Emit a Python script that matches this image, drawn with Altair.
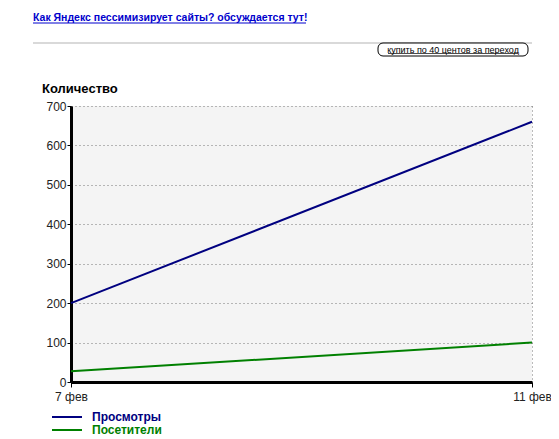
import altair as alt
import pandas as pd

# ---- data ----
days = [7, 11]
views = [200, 660]       # Просмотры
visitors = [27, 100]     # Посетители
series_names = ["Просмотры", "Посетители"]
series_colors = ["#000080", "#008000"]
y_ticks = [0, 100, 200, 300, 400, 500, 600, 700]
x_ticks = [7, 11]
month_label = "фев"

header_text = "Как Яндекс пессимизирует сайты? обсуждается тут!"
button_text = "купить по 40 центов за переход"
y_title = "Количество"

rows = []
for d, v in zip(days, views):
    rows.append({"day": d, "value": v, "series": series_names[0]})
for d, v in zip(days, visitors):
    rows.append({"day": d, "value": v, "series": series_names[1]})
df = pd.DataFrame(rows)

W, H = 461, 276
OX, OY = 71, 106  # plot origin in page pixels
FONT = "Liberation Sans"

lines = alt.Chart(df).mark_line(strokeWidth=2).encode(
    x=alt.X("day:Q",
            scale=alt.Scale(domain=[7, 11], nice=False, zero=False),
            axis=alt.Axis(values=x_ticks, title=None,
                          labelExpr=f"datum.value + ' {month_label}'",
                          labelAlign="center",
                          domainColor="black", domainWidth=3,
                          tickColor="black", tickSize=5, tickWidth=1,
                          labelFontSize=12, labelColor="#222", labelFont=FONT,
                          labelPadding=4, labelFlush=False,
                          grid=True, gridDash=[1, 3], gridColor="#777")),
    y=alt.Y("value:Q",
            scale=alt.Scale(domain=[0, 700], nice=False),
            axis=alt.Axis(values=y_ticks, title=None,
                          domainColor="black", domainWidth=3,
                          tickColor="black", tickSize=4, tickWidth=1,
                          labelFontSize=12, labelColor="#222", labelFont=FONT,
                          labelPadding=1,
                          grid=True, gridDash=[1, 3], gridColor="#777")),
    color=alt.Color("series:N",
                    scale=alt.Scale(domain=series_names, range=series_colors),
                    legend=None),
)

one = pd.DataFrame({"k": [0]})

title_mark = alt.Chart(one).mark_text(
    text=y_title, font=FONT, fontSize=13, fontWeight="bold",
    align="left", baseline="alphabetic", color="black"
).encode(x=alt.value(42 - OX), y=alt.value(93 - OY))

header = alt.Chart(one).mark_text(
    text=header_text, font=FONT, fontSize=10.5, fontWeight="bold",
    align="left", baseline="alphabetic", color="#0000cc"
).encode(x=alt.value(33 - OX), y=alt.value(21 - OY))

header_ul = alt.Chart(one).mark_rule(color="#0000cc", strokeWidth=1).encode(
    x=alt.value(33 - OX), x2=alt.value(306 - OX), y=alt.value(23 - OY))

sep = alt.Chart(one).mark_rule(color="#cccccc", strokeWidth=1.5).encode(
    x=alt.value(33 - OX), x2=alt.value(532 - OX), y=alt.value(43 - OY))

button = alt.Chart(one).mark_rect(
    fill="white", stroke="black", strokeWidth=1, cornerRadius=5
).encode(x=alt.value(378 - OX), x2=alt.value(528 - OX),
         y=alt.value(43 - OY), y2=alt.value(56 - OY))

button_txt = alt.Chart(one).mark_text(
    text=button_text, font=FONT, fontSize=9, align="center",
    baseline="middle", color="black"
).encode(x=alt.value(453 - OX), y=alt.value(49.5 - OY))

button_ul = alt.Chart(one).mark_rule(color="black", strokeWidth=0.7).encode(
    x=alt.value(388 - OX), x2=alt.value(518 - OX), y=alt.value(53.5 - OY))

legend_layers = []
for i, (name, col) in enumerate(zip(series_names, series_colors)):
    ly = 417 + 13 * i - OY
    legend_layers.append(
        alt.Chart(one).mark_rule(strokeWidth=2, color=col).encode(
            x=alt.value(52 - OX), x2=alt.value(82 - OX), y=alt.value(ly)))
    legend_layers.append(
        alt.Chart(one).mark_text(
            text=name, font=FONT, fontSize=12, fontWeight="bold",
            align="left", baseline="middle", color=col
        ).encode(x=alt.value(92 - OX), y=alt.value(ly)))

chart = alt.layer(
    lines, title_mark, header, header_ul, sep, button, button_txt, button_ul,
    *legend_layers
).properties(
    width=W, height=H,
    autosize=alt.AutoSizeParams(type="none"),
    padding={"left": 63, "top": 98, "right": 19, "bottom": 57},
    background="white",
).configure_view(fill="#f4f4f4", stroke=None)

chart.save("out.html", embed_options={"renderer": "svg", "actions": False})
